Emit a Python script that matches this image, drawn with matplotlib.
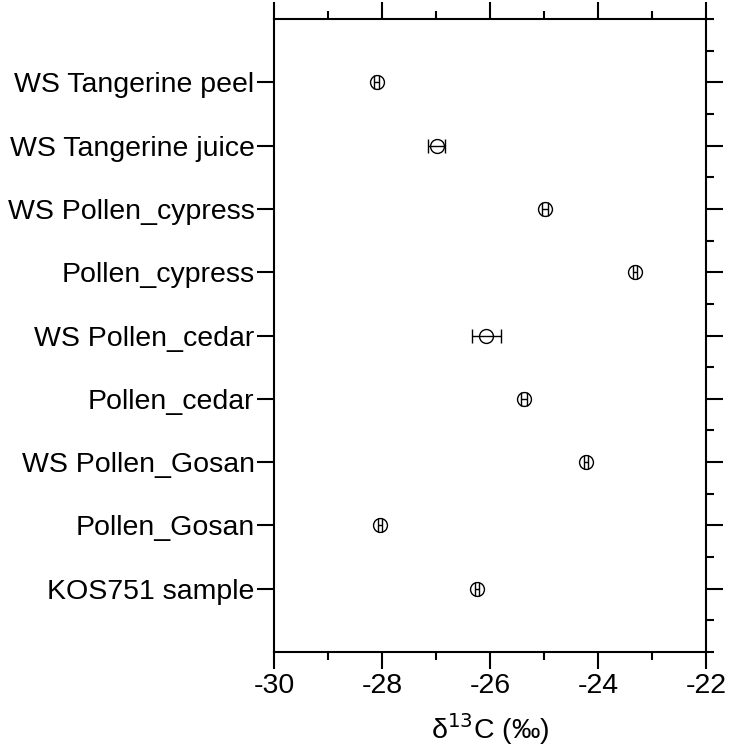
import matplotlib
matplotlib.use('Agg')
import matplotlib.pyplot as plt
from matplotlib.ticker import MultipleLocator

plt.rcParams['font.family'] = ['Liberation Sans', 'DejaVu Sans']
plt.rcParams['axes.unicode_minus'] = False

# samples listed top to bottom, as in the chart
labels = ['WS Tangerine peel', 'WS Tangerine juice', 'WS Pollen_cypress',
          'Pollen_cypress', 'WS Pollen_cedar', 'Pollen_cedar',
          'WS Pollen_Gosan', 'Pollen_Gosan', 'KOS751 sample']
d13c = [-28.10, -26.99, -24.98, -23.31, -26.07, -25.37, -24.22, -28.04, -26.24]
d13c_err = [0.05, 0.15, 0.05, 0.04, 0.27, 0.05, 0.04, 0.04, 0.03]

n = len(labels)
ypos = list(range(n, 0, -1))

fig = plt.figure(figsize=(7.30, 7.49), dpi=100)
ax = fig.add_axes([274 / 730, 1 - 652 / 749, 432 / 730, 633 / 749])

ax.errorbar(d13c, ypos, xerr=d13c_err, fmt='o', ms=10, mfc='none', mec='black',
            mew=1.0, ecolor='black', elinewidth=1.0, capsize=5, capthick=1.0)

ax.set_xlim(-30, -22)
ax.set_ylim(0, n + 1)
ax.xaxis.set_major_locator(MultipleLocator(2))
ax.xaxis.set_minor_locator(MultipleLocator(1))
ax.set_yticks(ypos)
ax.set_yticklabels(labels)
ax.yaxis.set_minor_locator(MultipleLocator(0.5))

for s in ax.spines.values():
    s.set_linewidth(1.5)

ax.tick_params(axis='x', which='major', direction='out', length=12, width=1.5,
               top=True, labelsize=20.5, pad=3)
ax.tick_params(axis='x', which='minor', direction='out', length=6, width=1.5, top=True)
ax.tick_params(axis='y', which='major', direction='out', length=12, width=1.5,
               right=True, labelsize=20.5, pad=2)
ax.tick_params(axis='y', which='minor', direction='out', length=6, width=1.5,
               left=False, right=True)

ax.set_xlabel('δ$^{13}$C (‰)', fontsize=20.5, labelpad=9)

fig.savefig('out.png', dpi=100)
